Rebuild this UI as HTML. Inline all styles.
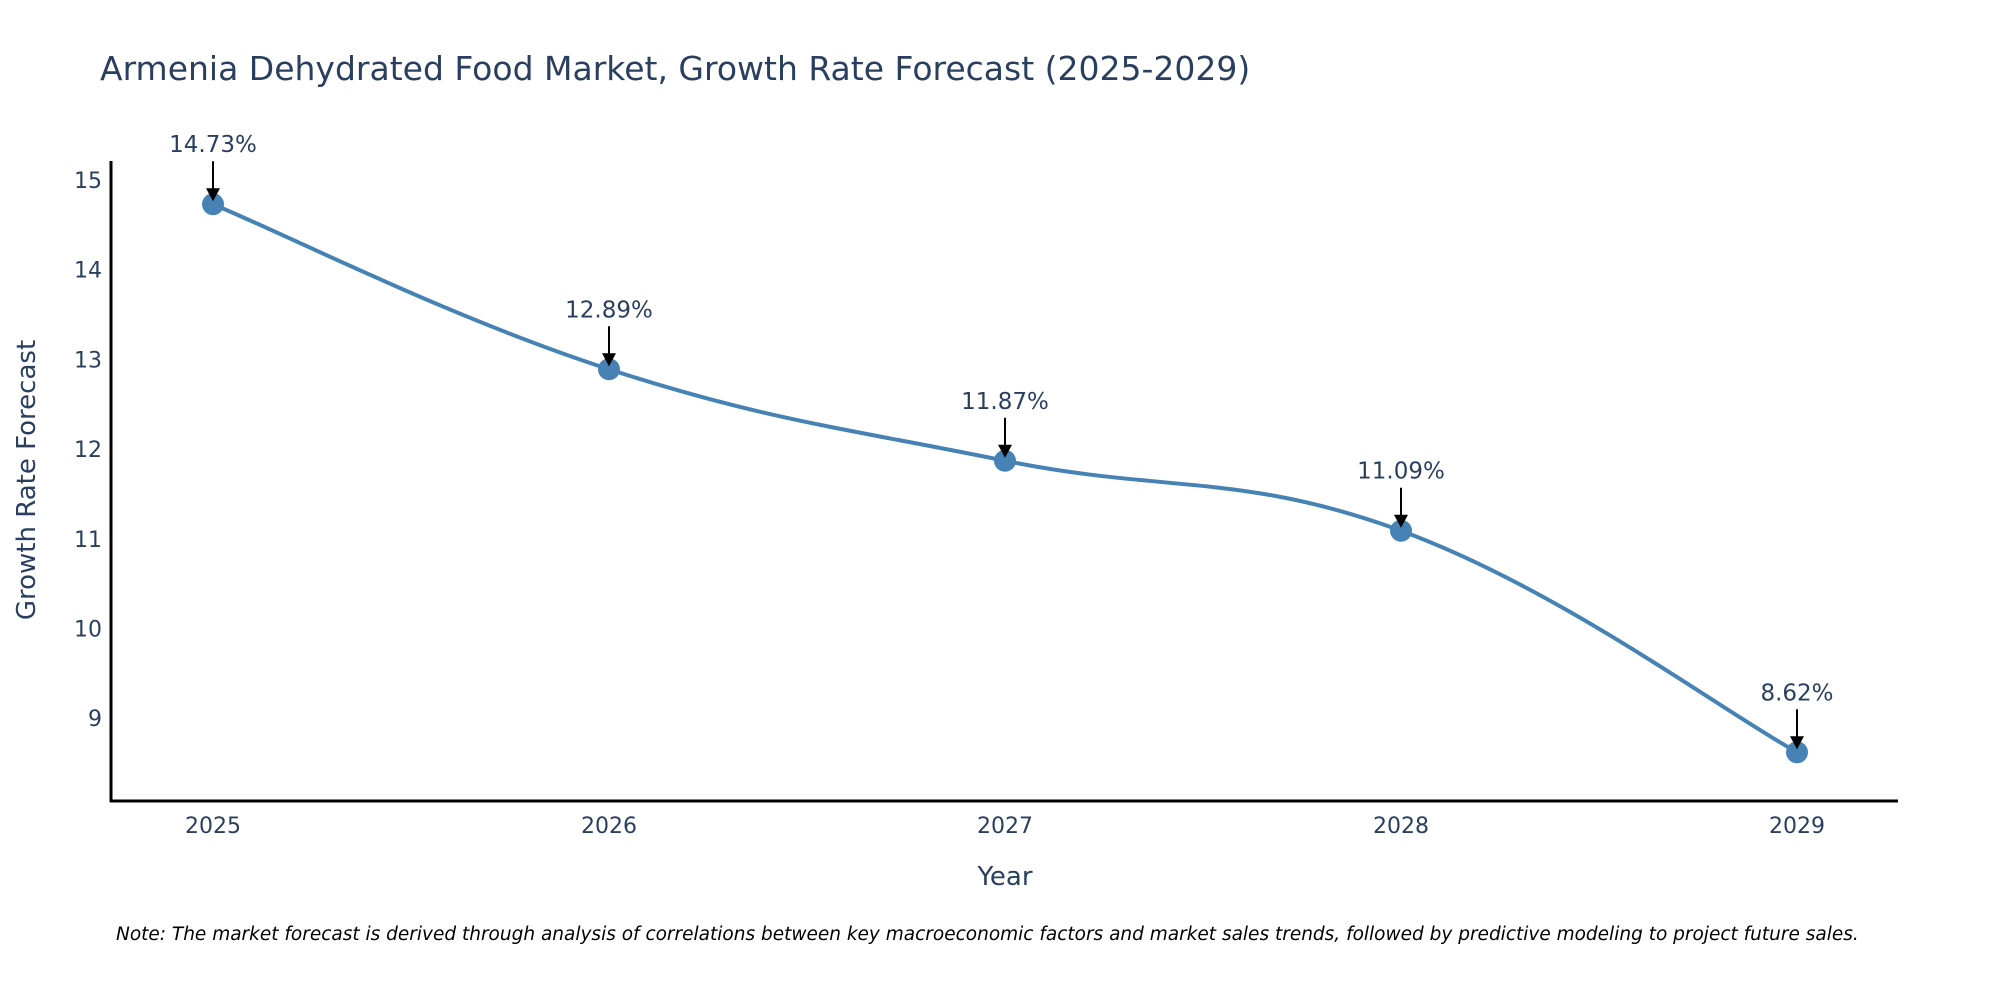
<!DOCTYPE html>
<html><head><meta charset="utf-8"><style>
body{margin:0;background:#fff;}
svg text{font-family:"DejaVu Sans","Liberation Sans",sans-serif;fill:#2a3f5f;}
</style></head><body>
<svg id="chart" width="2000" height="1000" xmlns="http://www.w3.org/2000/svg">
<rect width="2000" height="1000" fill="#fff"/>
<text x="100" y="80" font-size="33">Armenia Dehydrated Food Market, Growth Rate Forecast (2025-2029)</text>
<g id="yticks"></g><g id="xticks"></g>
<line x1="111" y1="161" x2="111" y2="802" stroke="#000" stroke-width="3"/>
<line x1="110" y1="801" x2="1898" y2="801" stroke="#000" stroke-width="3"/>
<text x="1005" y="885" font-size="26" text-anchor="middle">Year</text>
<text transform="translate(35,480) rotate(-90)" font-size="26" text-anchor="middle">Growth Rate Forecast</text>
<g id="series"></g>
<text x="116" y="940" font-size="18.5" font-style="italic" style="fill:#000">Note: The market forecast is derived through analysis of correlations between key macroeconomic factors and market sales trends, followed by predictive modeling to project future sales.</text>
</svg>
<script>
const years=[2025,2026,2027,2028,2029];
const values=[14.73,12.89,11.87,11.09,8.62];
const yTicks=[9,10,11,12,13,14,15];
const NS="http://www.w3.org/2000/svg";
function xS(i){return 213+(i)*396;}
function yS(v){return 180+(15-v)*89.7;}
function mk(t,a,p){const e=document.createElementNS(NS,t);for(const k in a)e.setAttribute(k,a[k]);p.appendChild(e);return e;}
const yg=document.getElementById('yticks'),xg=document.getElementById('xticks'),sg=document.getElementById('series');
yTicks.forEach(v=>{const t=mk('text',{x:102,y:yS(v)+8,'font-size':22,'text-anchor':'end'},yg);t.textContent=v;

});
years.forEach((y,i)=>{const t=mk('text',{x:xS(i),y:833,'font-size':22,'text-anchor':'middle'},xg);t.textContent=y;

});
const pts=values.map((v,i)=>[xS(i),yS(v)]);
let d=`M${pts[0][0]},${pts[0][1]}`;
for(let i=0;i<pts.length-1;i++){const p0=pts[Math.max(0,i-1)],p1=pts[i],p2=pts[i+1],p3=pts[Math.min(pts.length-1,i+2)];const k=0.2;
d+=` C${p1[0]+(p2[0]-p0[0])*k},${p1[1]+(p2[1]-p0[1])*k} ${p2[0]-(p3[0]-p1[0])*k},${p2[1]-(p3[1]-p1[1])*k} ${p2[0]},${p2[1]}`;}
const line=mk('path',{d:d,fill:'none',stroke:'#4682B4','stroke-width':4},sg);


pts.forEach((p,i)=>{const c=mk('circle',{cx:p[0],cy:p[1],r:11,fill:'#4682B4'},sg);


const a=mk('line',{x1:p[0],y1:p[1]-43,x2:p[0],y2:p[1]-14,stroke:'#000','stroke-width':2},sg);


const h=mk('polygon',{points:`${p[0]-7},${p[1]-16} ${p[0]+7},${p[1]-16} ${p[0]},${p[1]-3}`,fill:'#000'},sg);


const t=mk('text',{x:p[0],y:p[1]-52,'font-size':23,'text-anchor':'middle'},sg);t.textContent=values[i].toFixed(2)+'%';

});
</script>
</body></html>
